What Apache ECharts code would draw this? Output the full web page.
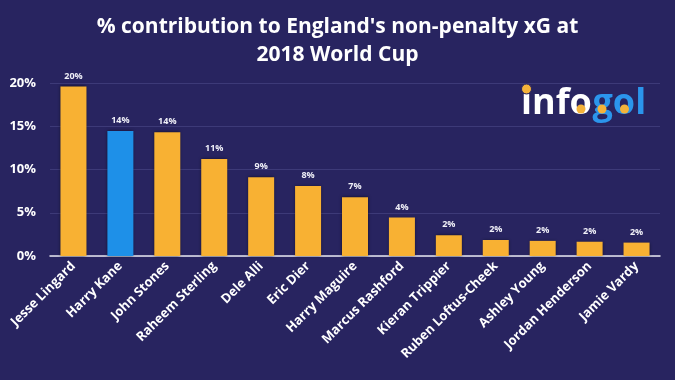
<!DOCTYPE html>
<html><head><meta charset="utf-8">
<script src="https://cdn.jsdelivr.net/npm/echarts@6/dist/echarts.min.js"></script>
<style>html,body{margin:0;padding:0;background:#282460;}#c{width:675px;height:380px;}</style>
</head><body><div id="c"></div>
<script>
const players = ["Jesse Lingard","Harry Kane","John Stones","Raheem Sterling","Dele Alli","Eric Dier","Harry Maguire","Marcus Rashford","Kieran Trippier","Ruben Loftus-Cheek","Ashley Young","Jordan Henderson","Jamie Vardy"];
const contribution = [19.6, 14.45, 14.3, 11.2, 9.1, 8.1, 6.8, 4.45, 2.4, 1.85, 1.75, 1.65, 1.55];
const highlight = "Harry Kane";
const yTicks = [0, 5, 10, 15, 20];

const chart = echarts.init(document.getElementById('c'));
chart.setOption({
  backgroundColor: '#282460',
  animation: false,
  title: {
    text: "% contribution to England's non-penalty xG at\n2018 World Cup",
    left: 'center', top: 8,
    textStyle: {color: '#ffffff', fontFamily: 'Open Sans', fontWeight: 'bold', fontSize: 21, lineHeight: 28}
  },
  grid: {left: 50, right: 15, top: 83, bottom: 124},
  xAxis: {
    type: 'category', data: players,
    axisLine: {lineStyle: {color: '#e8e8f0', width: 1.5}},
    axisTick: {show: false},
    axisLabel: {rotate: 45, color: '#ffffff', fontFamily: 'Open Sans', fontWeight: 'bold', fontSize: 13, interval: 0, margin: 8}
  },
  yAxis: {
    type: 'value', min: yTicks[0], max: yTicks[yTicks.length-1], interval: 5,
    axisLabel: {formatter: '{value}%', color: '#ffffff', fontFamily: 'Open Sans', fontWeight: 'bold', fontSize: 13, margin: 14},
    axisLine: {show: false}, axisTick: {show: false},
    splitLine: {lineStyle: {color: '#3d3a78', width: 1}}
  },
  series: [{
    type: 'bar', barWidth: 26,
    data: contribution.map((v, i) => ({value: v, itemStyle: {color: players[i] === highlight ? '#1e90e8' : '#f8b133'}})),
    itemStyle: {shadowColor: 'rgba(0,0,0,0.6)', shadowBlur: 3},
    label: {show: true, position: 'top', distance: 6, color: '#f0f0f8', fontFamily: 'Open Sans', fontWeight: 'bold', fontSize: 9,
      formatter: p => Math.round(p.value) + '%'}
  }],
  graphic: [
    {type: 'text', z: 10, style: {x: 521, y: 104, text: 'info', verticalAlign: 'middle', fill: '#ffffff', fontFamily: 'Open Sans', fontWeight: 'bold', fontSize: 36}},
    {type: 'text', z: 10, style: {x: 592.5, y: 104, text: 'gol', verticalAlign: 'middle', fill: '#2b95ec', fontFamily: 'Open Sans', fontWeight: 'bold', fontSize: 36}},
    {type: 'circle', z: 11, shape: {cx: 526.5, cy: 89, r: 5}, style: {fill: '#f4b23a', stroke: '#282460', lineWidth: 1}},
    {type: 'circle', z: 11, shape: {cx: 581, cy: 109, r: 4.5}, style: {fill: '#f4b23a'}},
    {type: 'circle', z: 11, shape: {cx: 602, cy: 109, r: 4.5}, style: {fill: '#f4b23a'}},
    {type: 'circle', z: 11, shape: {cx: 624.5, cy: 109, r: 4.5}, style: {fill: '#f4b23a'}}
  ]
});
</script></body></html>
